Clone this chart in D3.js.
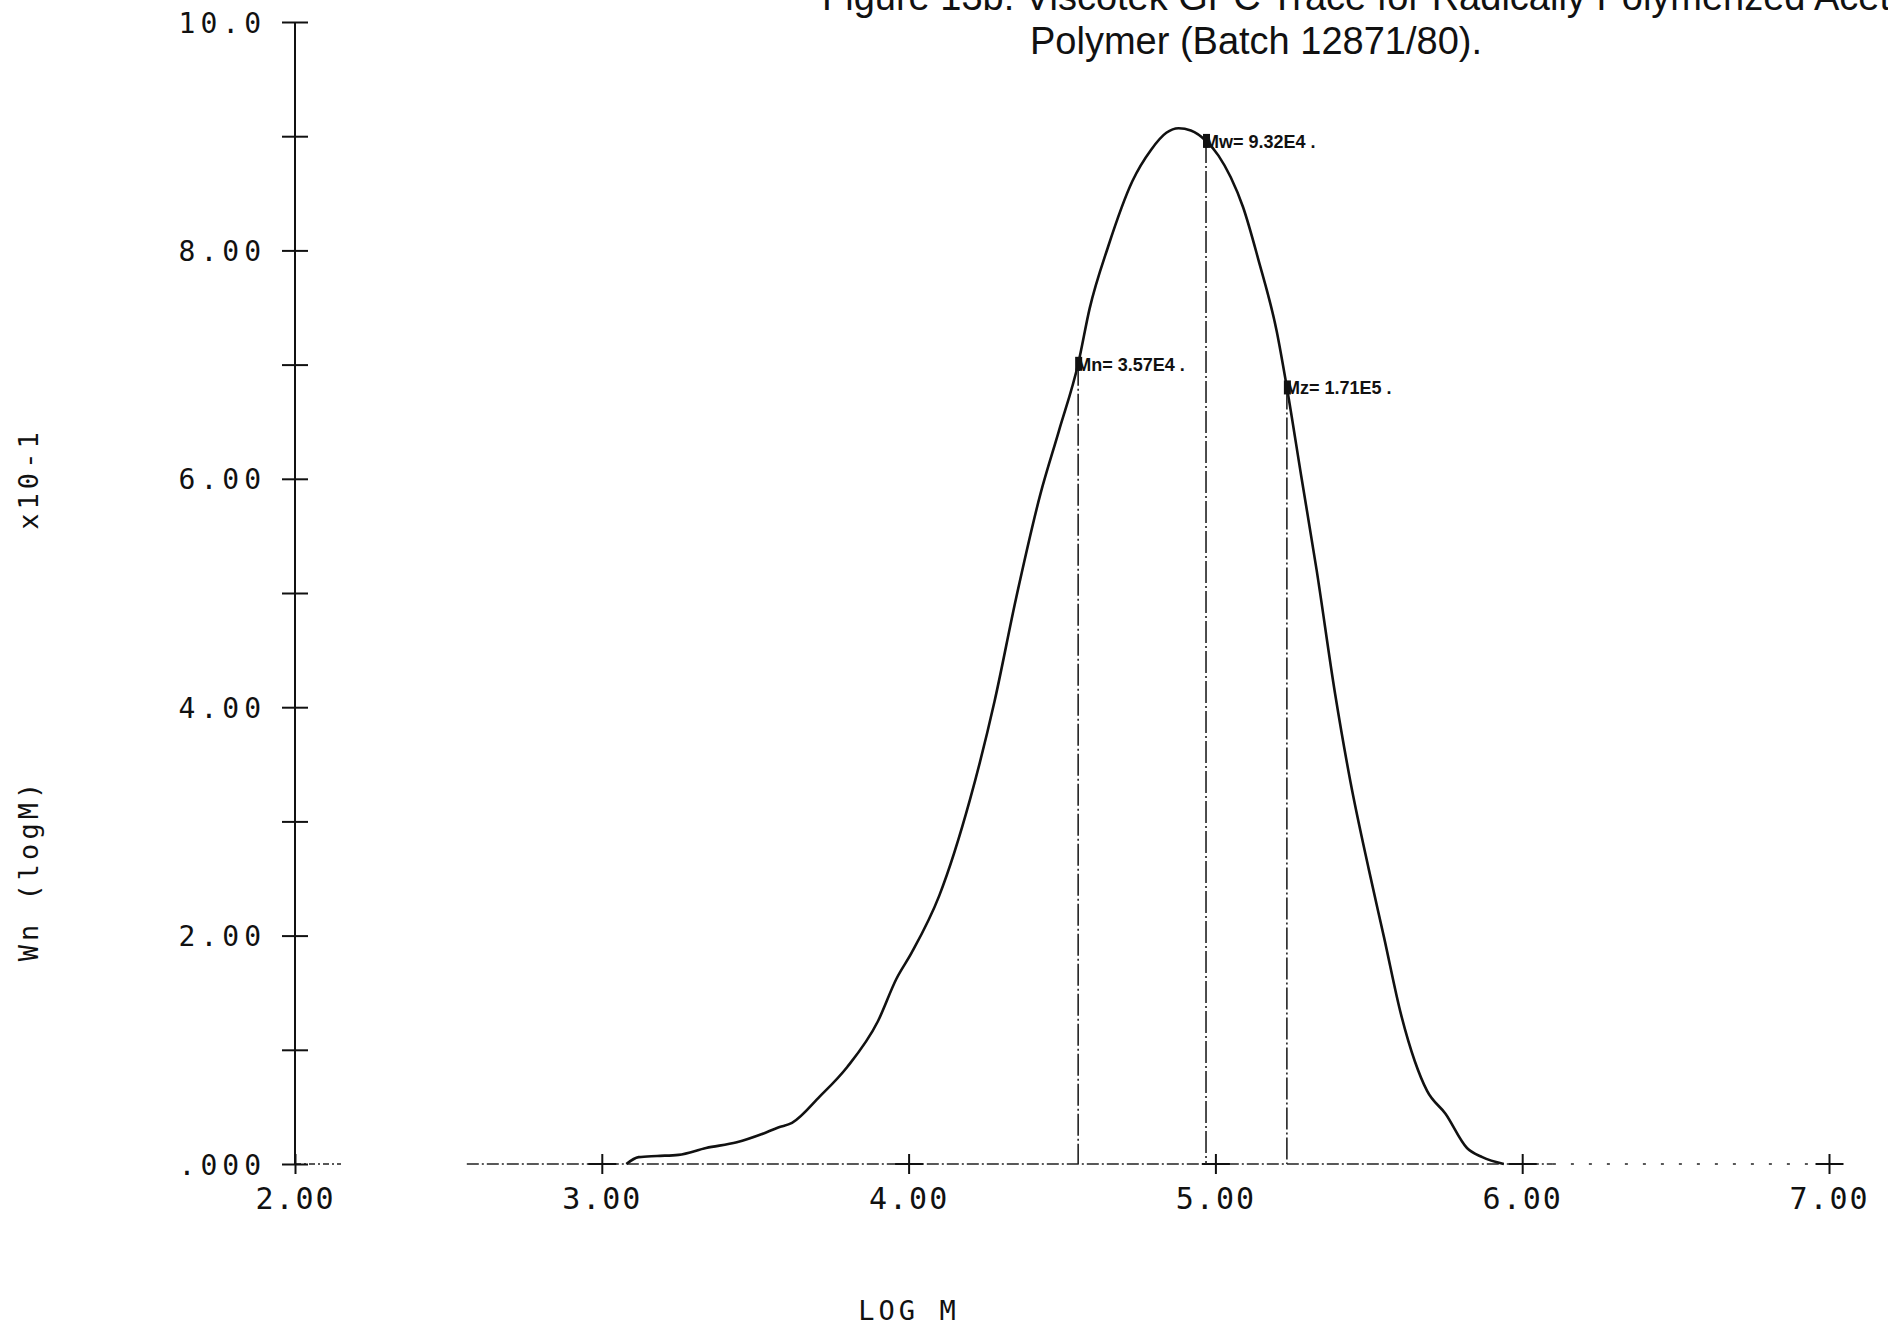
<!DOCTYPE html>
<html>
  <head>
    <meta charset="utf-8">
    <title>Viscotek GPC Trace</title>
    <script src="https://d3js.org/d3.v7.min.js"></script>
    <style>
    body {
        margin: 0;
        background-color: #FFF;
    }
    svg {
        display: block;
    }
    .title {
        font: 38px "Liberation Sans Narrow", "Liberation Sans", sans-serif;
        fill: #111;
    }
    .ytick text {
        font: 28px "DejaVu Sans Mono", monospace;
        letter-spacing: 5px;
        fill: #111;
    }
    .xtick text {
        font: 30px "DejaVu Sans Mono", monospace;
        letter-spacing: 2px;
        fill: #111;
    }
    .axislabel {
        font: 27px "DejaVu Sans Mono", monospace;
        fill: #111;
    }
    .avg text {
        font: bold 18px "Liberation Sans Narrow", "Liberation Sans", sans-serif;
        fill: #111;
    }
    </style>
  </head>
  <body>
    <svg id="chart" width="1888" height="1332"></svg>
    <script>
    // trace: log M against Wn (logM), in units of x10-1
    var logM = [3.08, 3.12, 3.18, 3.25, 3.34, 3.44, 3.52, 3.575, 3.62, 3.71, 3.80, 3.90, 3.96, 4.01,
                4.10, 4.20, 4.28, 4.35, 4.43, 4.49, 4.553, 4.59, 4.65, 4.73, 4.79, 4.84, 4.88,
                4.92, 4.969, 5.01, 5.05, 5.09, 5.14, 5.20, 5.233, 5.28, 5.33, 5.39, 5.44, 5.50, 5.55,
                5.605, 5.65, 5.69, 5.75, 5.82, 5.87, 5.94];
    var wn   = [0.00, 0.06, 0.07, 0.08, 0.14, 0.19, 0.26, 0.32, 0.36, 0.59, 0.85, 1.25, 1.62, 1.85,
                2.35, 3.19, 4.05, 4.95, 5.87, 6.42, 7.01, 7.49, 8.03, 8.61, 8.88, 9.03, 9.07,
                9.05, 8.96, 8.83, 8.64, 8.38, 7.92, 7.29, 6.80, 6.02, 5.20, 4.12, 3.35, 2.58, 1.98,
                1.31, 0.90, 0.64, 0.44, 0.14, 0.06, 0.00];

    var avgNames  = ["Mn", "Mw", "Mz"];
    var avgValues = [3.57e4, 9.32e4, 1.71e5];
    var avgLabels = ["3.57E4", "9.32E4", "1.71E5"];

    var xTicks = [2, 3, 4, 5, 6, 7];
    var xTickLabels = ["2.00", "3.00", "4.00", "5.00", "6.00", "7.00"];
    var yTicks = [0, 1, 2, 3, 4, 5, 6, 7, 8, 9, 10];
    var yTickLabels = [".000", "", "2.00", "", "4.00", "", "6.00", "", "8.00", "", "10.0"];

    var svg = d3.select("#chart");

    var x = d3.scaleLinear().domain([2, 7]).range([295, 1829]);
    var y = d3.scaleLinear().domain([0, 10]).range([1164, 22]);

    // titles (top line is cut off by the page edge, as in the scan)
    svg.append("text").attr("class", "title")
        .attr("x", 822).attr("y", 10)
        .text("Figure 13b:  Viscotek GPC Trace for Radically Polymerized Acet");
    svg.append("text").attr("class", "title")
        .attr("x", 1256).attr("y", 54).attr("text-anchor", "middle")
        .text("Polymer (Batch 12871/80).");

    // baseline, drawn in pieces like the plotter did
    var base = svg.append("g").attr("stroke", "#222").attr("fill", "none");
    base.append("line")
        .attr("x1", x(2)).attr("x2", x(2.15)).attr("y1", y(0)).attr("y2", y(0))
        .attr("stroke-width", 1.3).attr("stroke-dasharray", "6,3,2,3");
    base.append("line")
        .attr("x1", x(2.56)).attr("x2", x(6.1)).attr("y1", y(0)).attr("y2", y(0))
        .attr("stroke-width", 1.4).attr("stroke-dasharray", "12,3,2,3");
    base.append("line")
        .attr("x1", x(6.1)).attr("x2", x(7)).attr("y1", y(0)).attr("y2", y(0))
        .attr("stroke-width", 1.4).attr("stroke-dasharray", "3,15");

    // y axis
    var yAxis = svg.append("g")
        .attr("class", "ytick")
        .attr("transform", "translate(" + x(2) + ",0)")
        .call(d3.axisLeft(y).tickValues(yTicks).tickSize(13).tickPadding(16)
            .tickFormat(function(d, i) { return yTickLabels[i]; }));
    yAxis.select(".domain").remove();
    yAxis.selectAll(".tick line").attr("x1", 13).attr("stroke", "#111").attr("stroke-width", 2);
    yAxis.selectAll(".tick text").attr("dy", "0.36em");
    svg.append("line")
        .attr("x1", x(2)).attr("x2", x(2)).attr("y1", y(0)).attr("y2", y(10))
        .attr("stroke", "#111").attr("stroke-width", 2);

    // x axis
    var xAxis = svg.append("g")
        .attr("class", "xtick")
        .attr("transform", "translate(0," + y(0) + ")")
        .call(d3.axisBottom(x).tickValues(xTicks).tickSize(10).tickPadding(14)
            .tickFormat(function(d, i) { return xTickLabels[i]; }));
    xAxis.select(".domain").remove();
    xAxis.selectAll(".tick line").attr("y1", -10).attr("stroke", "#111").attr("stroke-width", 2);
    // short solid runs of the baseline around the ticks
    xAxis.selectAll(".tick").filter(function(d) { return d > 2; }).append("line")
        .attr("x1", -14).attr("x2", 14).attr("stroke", "#111").attr("stroke-width", 2);

    // axis titles
    svg.append("text").attr("class", "axislabel")
        .attr("x", 909).attr("y", 1320).attr("text-anchor", "middle")
        .style("letter-spacing", "4px")
        .text("LOG M");
    svg.append("text").attr("class", "axislabel")
        .attr("transform", "translate(38,870) rotate(-90)").attr("text-anchor", "middle")
        .style("letter-spacing", "4px")
        .text("Wn  (logM)");
    svg.append("text").attr("class", "axislabel")
        .attr("transform", "translate(38,479) rotate(-90)").attr("text-anchor", "middle")
        .style("letter-spacing", "4px")
        .text("x10-1");

    // GPC trace
    var pts = logM.map(function(v, i) { return [v, wn[i]]; });
    var line = d3.line()
        .x(function(d) { return x(d[0]); })
        .y(function(d) { return y(d[1]); })
        .curve(d3.curveMonotoneX);
    svg.append("path")
        .datum(pts)
        .attr("d", line)
        .attr("fill", "none")
        .attr("stroke", "#111")
        .attr("stroke-width", 2.6)
        .attr("stroke-linejoin", "round");

    // average molecular weights: height taken off the trace
    function traceAt(v) {
        var i = d3.bisectLeft(logM, v);
        if (i <= 0) return wn[0];
        var t = (v - logM[i - 1]) / (logM[i] - logM[i - 1]);
        return wn[i - 1] + t * (wn[i] - wn[i - 1]);
    }

    var avg = svg.append("g").attr("class", "avg")
        .selectAll("g")
        .data(avgValues)
        .enter().append("g")
        .attr("transform", function(d) {
            var lm = Math.log10(d);
            return "translate(" + x(lm) + "," + y(traceAt(lm)) + ")";
        });
    avg.append("line")
        .attr("x1", 0).attr("x2", 0).attr("y1", 0)
        .attr("y2", function(d) { var lm = Math.log10(d); return y(0) - y(traceAt(lm)); })
        .attr("stroke", "#222").attr("stroke-width", 1.6)
        .attr("stroke-dasharray", "22,3,2,3");
    avg.append("rect")
        .attr("x", -3).attr("y", -7).attr("width", 7).attr("height", 14)
        .attr("fill", "#111");
    avg.append("text")
        .attr("x", -2).attr("y", 7)
        .text(function(d, i) { return avgNames[i] + "= " + avgLabels[i] + " ."; });
    </script>
  </body>
</html>
